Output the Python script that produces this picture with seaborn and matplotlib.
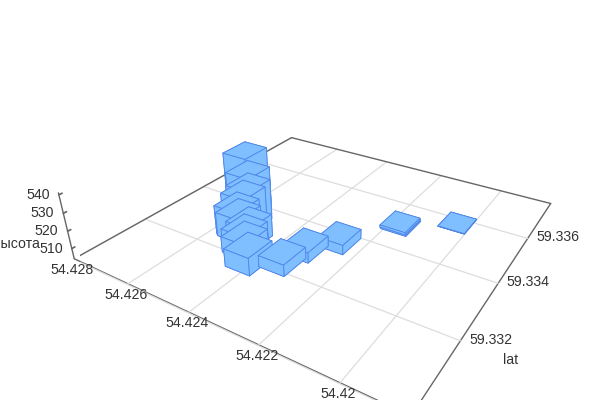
import numpy as np
import pandas as pd
import matplotlib
matplotlib.use("Agg")
import matplotlib.pyplot as plt
import seaborn as sns
from mpl_toolkits.mplot3d import proj3d

sns.set_theme(style="white")
plt.rcParams["font.family"] = ["Liberation Sans", "DejaVu Sans"]

# bars in drawing order, far ones first
lon = [54.42040, 54.42170, 54.42175, 54.42268, 54.42322,
       54.42583, 54.42554, 54.42537, 54.42540, 54.42535, 54.42526, 54.42478, 54.42475, 54.42462,
       54.42412, 54.42339]
lat = [59.33580, 59.33500, 59.33505, 59.33360, 59.33294,
       59.33366, 59.33343, 59.33325, 59.33309, 59.33280, 59.33275, 59.33263, 59.33244, 59.33230,
       59.33192, 59.33228]
height = [504.2, 505, 505.3, 509.5, 510,
          541, 533, 528, 525, 521, 518, 517, 515, 513,
          514, 510.5]

lon_ticks = [54.428, 54.426, 54.424, 54.422, 54.42]
lon_labels = ["54.428", "54.426", "54.424", "54.422", "54.42"]
lat_ticks = [59.332, 59.334, 59.336]
lat_labels = ["59.332", "59.334", "59.336"]
lat_grid = [59.33, 59.332, 59.334, 59.336]
z_ticks = [510, 520, 530, 540]
z_labels = ["510", "520", "530", "540"]

LON_MAX, LON_MIN = 54.428, 54.41848
LAT_MIN, LAT_MAX = 59.33002, 59.33793
Z_MIN, Z_MAX = 504.0, 541.0
BAR_LON, BAR_LAT = 0.00078, 0.00078
TEXT_C = "#333333"

df = pd.DataFrame({"lon": lon, "lat": lat, "height": height})

fig = plt.figure(figsize=(6, 4), dpi=100)
ax = fig.add_axes([79.66 / 600, -49.84 / 400, 489 / 600, 489 / 400], projection="3d")
ax.computed_zorder = False
ax.patch.set_alpha(0)
ax.view_init(elev=28.31, azim=-57.58)
ax.set_proj_type("persp", focal_length=0.2298)
ax.set_box_aspect((0.9987, 1, 0.2002))

# floor grid
grid_c = "#dddddd"
for t in lon_ticks:
    ax.plot([t, t], [LAT_MIN, LAT_MAX], [Z_MIN, Z_MIN], color=grid_c, lw=0.9, zorder=1)
for t in lat_grid:
    ax.plot([LON_MAX, LON_MIN], [t, t], [Z_MIN, Z_MIN], color=grid_c, lw=0.9, zorder=1)
# back edges of the floor
edge_c = "#666666"
ax.plot([LON_MAX, LON_MAX], [LAT_MIN, LAT_MAX], [Z_MIN, Z_MIN], color=edge_c, lw=1, zorder=1)
ax.plot([LON_MAX, LON_MIN], [LAT_MAX, LAT_MAX], [Z_MIN, Z_MIN], color=edge_c, lw=1, zorder=1)

# one call per bar, mplot3d mixes up the faces of neighbours otherwise
for i, row in df.iterrows():
    ax.bar3d(row["lon"] - BAR_LON / 2, row["lat"] - BAR_LAT / 2, Z_MIN, BAR_LON, BAR_LAT, row["height"] - Z_MIN,
             color="#7fbeff", edgecolor="#4f86ea", linewidth=0.6, shade=False, zorder=3 + i)

ax.set_xlim(LON_MAX, LON_MIN)
ax.set_ylim(LAT_MIN, LAT_MAX)
ax.set_zlim(Z_MIN, Z_MAX)
ax.set_xticks(lon_ticks, [""] * len(lon_ticks))
ax.set_yticks(lat_ticks, [""] * len(lat_ticks))
ax.set_zticks(z_ticks, [""] * len(z_ticks))
ax.grid(False)

for axis in (ax.xaxis, ax.yaxis, ax.zaxis):
    axis.pane.set_visible(False)
    axis.line.set_color(edge_c)
    axis.line.set_linewidth(1)
    axis._axinfo["tick"].update(inward_factor=0, outward_factor=0)
ax.zaxis._axinfo["tick"].update(outward_factor=0.12)
ax.zaxis.set_ticks_position("lower")
ax.tick_params(axis="z", color=edge_c)


# mplot3d only moves tick labels along one axis, so place them from the tick position
def tick_text(x, y, z, s, dx, dy):
    vx, vy, _ = proj3d.proj_transform(x, y, z, ax.get_proj())
    ax.annotate(s, (vx, vy), xytext=(dx, dy), textcoords="offset pixels", fontsize=10.2, color=TEXT_C,
                ha="center", va="center", annotation_clip=False, zorder=30)


for t, s in zip(lon_ticks, lon_labels):
    tick_text(t, LAT_MIN, Z_MIN, s, -2, -11)
for t, s in zip(lat_ticks, lat_labels):
    tick_text(LON_MIN, t, Z_MIN, s, 30, 1)
for t, s in zip(z_ticks, z_labels):
    tick_text(LON_MAX, LAT_MIN, t, s, -21, 0)

fig.text(511 / 600, 1 - 360 / 400, "lat", fontsize=10.2, color=TEXT_C, ha="center", va="center")
fig.text(16 / 600, 1 - 244 / 400, "высота", fontsize=10.2, color=TEXT_C, ha="center", va="center")

fig.savefig("out.png", dpi=100)
